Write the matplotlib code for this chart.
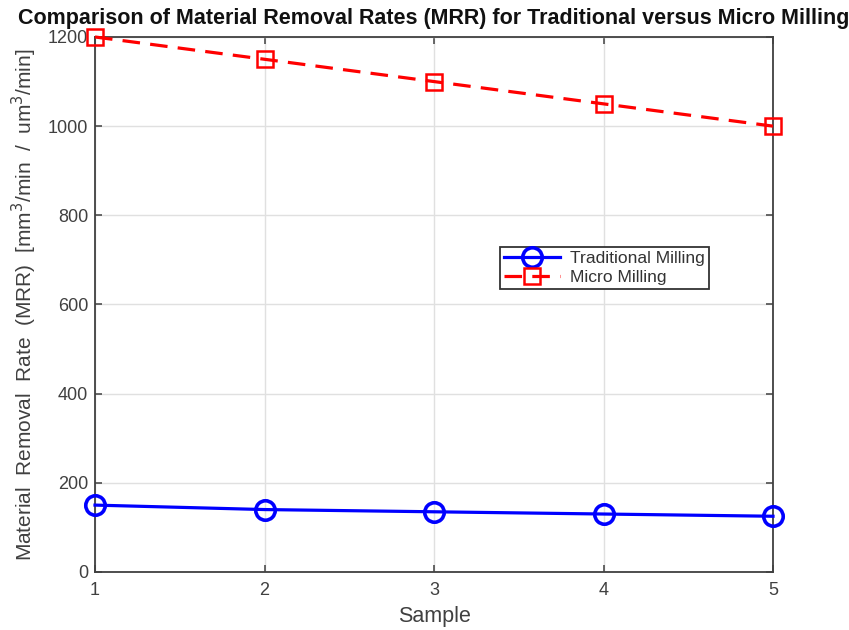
import matplotlib
matplotlib.use("Agg")
import matplotlib.pyplot as plt

plt.rcParams['font.family'] = ['Liberation Sans', 'DejaVu Sans']

samples = [1, 2, 3, 4, 5]
traditional = [150, 140, 135, 130, 125]
micro = [1200, 1150, 1100, 1050, 1000]
xticks = [1, 2, 3, 4, 5]
yticks = [0, 200, 400, 600, 800, 1000, 1200]

fig = plt.figure(figsize=(8.49, 6.3), dpi=100)
ax = fig.add_axes([0.1119, 0.0921, 0.7986, 0.8492])

ax.plot(samples, traditional, '-o', color='#0000FF', lw=2.3, ms=14,
        mfc='none', mew=2.6, label='Traditional Milling', clip_on=False, zorder=3)
ax.plot(samples, micro, '--s', color='#FF0000', lw=2.3, ms=11,
        mfc='none', mew=1.8, label='Micro Milling', clip_on=False, zorder=3,
        dashes=(5.5, 3.2))

ax.set_xlim(1, 5)
ax.set_ylim(0, 1200)
ax.set_xticks(xticks)
ax.set_yticks(yticks)
ax.grid(True, color='#E0E0E0', lw=1.0)
ax.set_axisbelow(True)

for s in ax.spines.values():
    s.set_color('#404040')
    s.set_linewidth(1.3)
ax.tick_params(axis='both', direction='in', length=5, width=1.1, colors='#404040',
               labelcolor='#404040', labelsize=13, top=True, right=True)
ax.tick_params(axis='x', pad=7)
ax.tick_params(axis='y', pad=5)

ax.set_xlabel('Sample', fontsize=15.5, color='#404040', labelpad=5)
ax.set_ylabel('Material  Removal  Rate  (MRR)  [mm$^3$/min  /  um$^3$/min]',
              fontsize=15, color='#404040', labelpad=6)
ax.set_title('Comparison of Material Removal Rates (MRR) for Traditional versus Micro Milling',
             fontsize=15.5, fontweight='bold', color='#111111', pad=9.5)

leg = ax.legend(loc='upper left', bbox_to_anchor=(0.597, 0.608), fontsize=12.6,
                frameon=True, fancybox=False, edgecolor='#333333', framealpha=1,
                borderpad=0.25, labelspacing=0.2, handlelength=3.2,
                handletextpad=0.55, borderaxespad=0)
leg.get_frame().set_linewidth(1.3)
for t in leg.get_texts():
    t.set_color('#333333')

fig.savefig('out.png', dpi=100)
